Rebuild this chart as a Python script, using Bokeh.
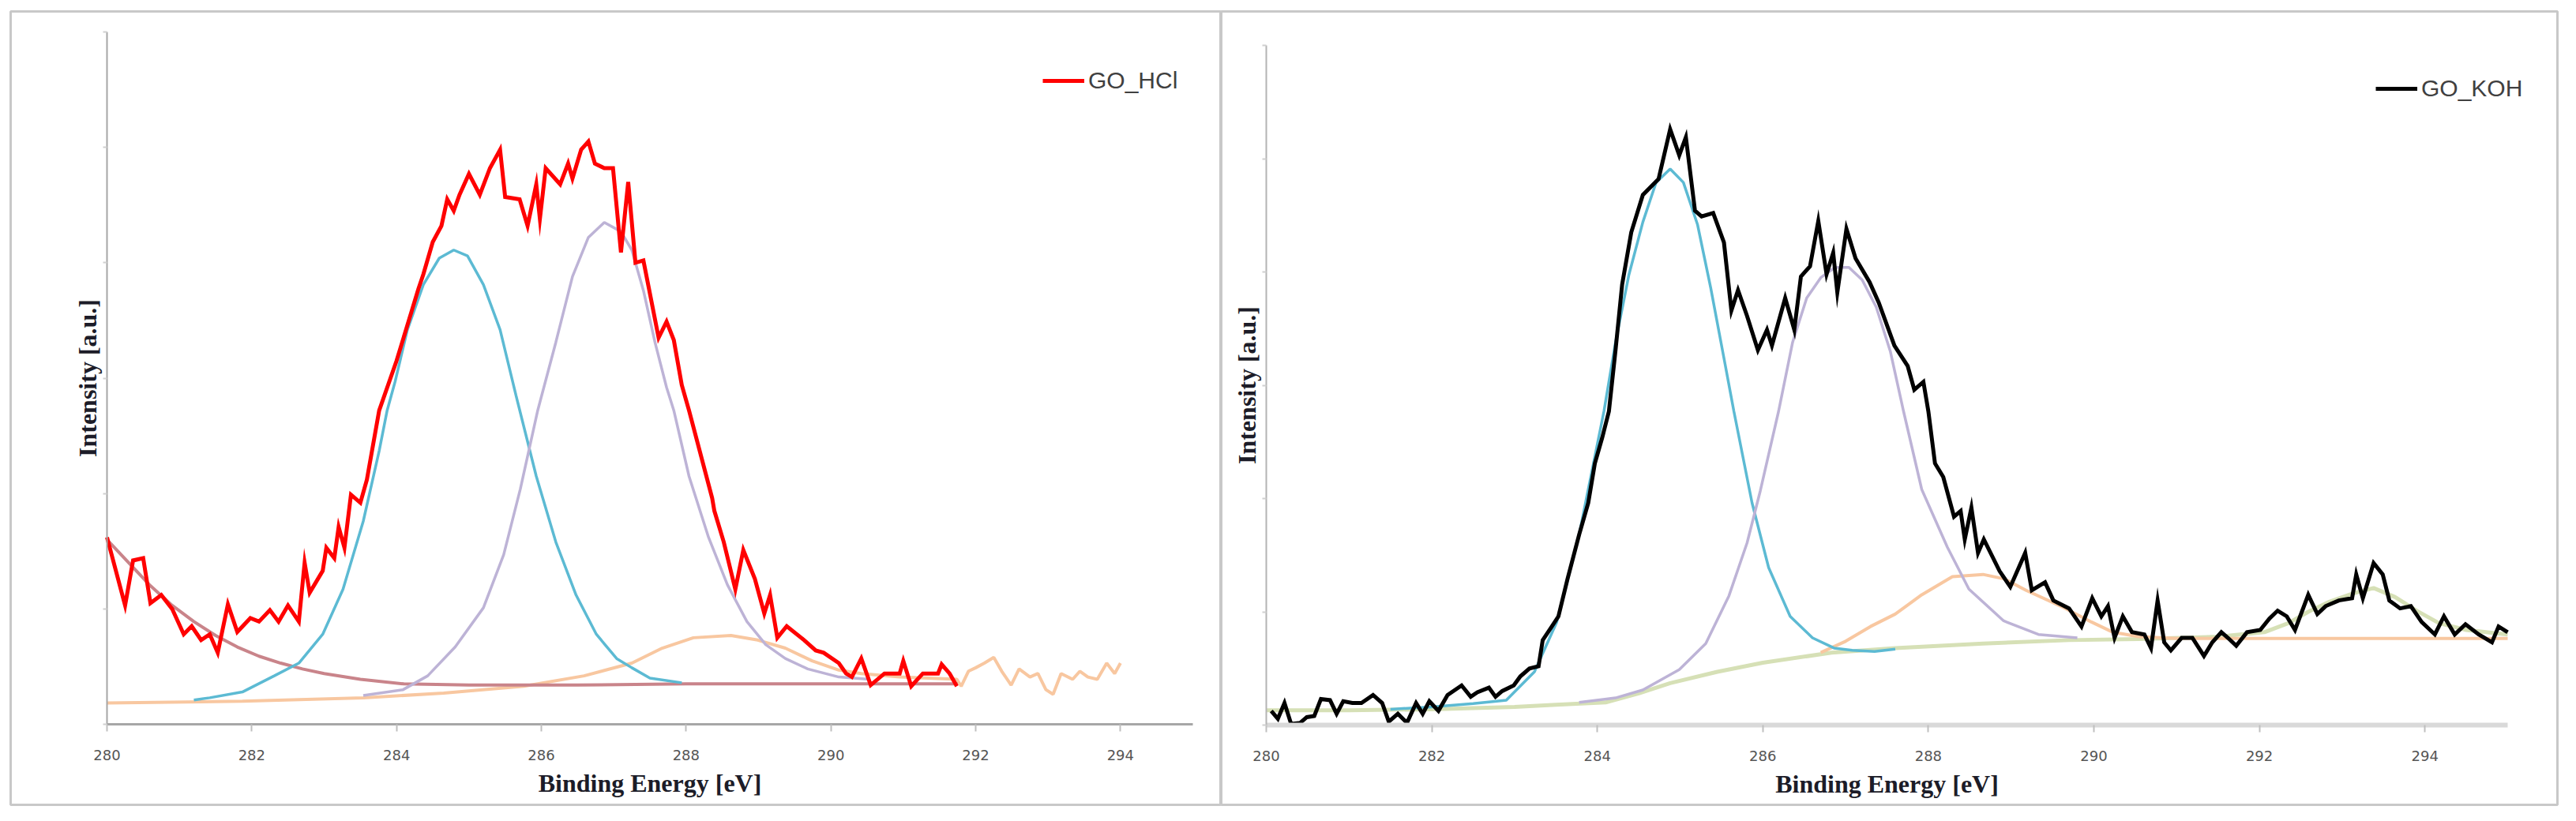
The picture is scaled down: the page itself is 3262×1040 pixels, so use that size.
from bokeh.plotting import figure
from bokeh.models import (Range1d, LinearAxis, FixedTicker, Legend, LegendItem,
                          CustomJSTickFormatter)
from bokeh.layouts import row
from bokeh.embed import file_html
from bokeh.resources import INLINE

# ---------------------------------------------------------------- data
x_ticks = [280, 282, 284, 286, 288, 290, 292, 294]
y_ticks = [0, 1, 2, 3, 4, 5, 6]

# GO_HCl measured C1s spectrum
hcl_be = [280.00, 280.25, 280.36, 280.50, 280.60, 280.75, 280.90, 281.06, 281.17, 281.30,
          281.42, 281.53, 281.67, 281.80, 281.98, 282.10, 282.25, 282.37, 282.50, 282.65,
          282.73, 282.80, 282.98, 283.03, 283.14, 283.20, 283.28, 283.37, 283.50, 283.59,
          283.76, 284.00, 284.30, 284.37, 284.50, 284.62, 284.70, 284.79, 284.87, 285.00,
          285.15, 285.29, 285.43, 285.50, 285.70, 285.81, 285.93, 285.98, 286.06, 286.26,
          286.37, 286.43, 286.55, 286.65, 286.74, 286.87, 286.99, 287.10, 287.20, 287.30,
          287.41, 287.62, 287.73, 287.83, 287.94, 288.04, 288.36, 288.39, 288.52, 288.68,
          288.79, 288.95, 289.08, 289.16, 289.26, 289.39, 289.63, 289.79, 289.90, 290.11,
          290.21, 290.29, 290.42, 290.55, 290.74, 290.95, 291.00, 291.11, 291.27, 291.48,
          291.53, 291.64, 291.74]
hcl_int = [1.62, 1.03, 1.42, 1.44, 1.05, 1.12, 1.00, 0.78, 0.85, 0.73,
           0.78, 0.62, 1.04, 0.80, 0.92, 0.89, 0.99, 0.89, 1.03, 0.89,
           1.40, 1.14, 1.33, 1.53, 1.44, 1.71, 1.53, 1.99, 1.92, 2.12,
           2.72, 3.15, 3.77, 3.90, 4.18, 4.32, 4.55, 4.45, 4.59, 4.77,
           4.59, 4.82, 4.98, 4.57, 4.55, 4.32, 4.68, 4.38, 4.82, 4.68,
           4.86, 4.73, 4.98, 5.05, 4.86, 4.82, 4.82, 4.09, 4.70, 4.00,
           4.02, 3.35, 3.49, 3.33, 2.94, 2.72, 1.96, 1.85, 1.58, 1.17,
           1.51, 1.26, 0.96, 1.12, 0.75, 0.85, 0.73, 0.64, 0.62, 0.53,
           0.44, 0.41, 0.57, 0.34, 0.44, 0.44, 0.55, 0.33, 0.44, 0.44,
           0.52, 0.44, 0.33]

# GO_HCl fitted components
hcl_c1_be = [281.20, 281.42, 281.87, 282.31, 282.65, 282.98, 283.26, 283.54, 283.76, 283.87,
             283.98, 284.15, 284.37, 284.59, 284.79, 284.98, 285.20, 285.43, 285.65, 285.93,
             286.20, 286.48, 286.76, 287.04, 287.25, 287.50, 287.94]
hcl_c1 = [0.21, 0.23, 0.28, 0.42, 0.53, 0.78, 1.17, 1.76, 2.37, 2.72,
          2.97, 3.42, 3.81, 4.04, 4.11, 4.06, 3.81, 3.42, 2.85, 2.15,
          1.58, 1.12, 0.78, 0.57, 0.49, 0.40, 0.36]

hcl_c2_be = [283.54, 284.09, 284.43, 284.81, 285.20, 285.48, 285.71, 285.95, 286.20, 286.43,
             286.65, 286.87, 287.10, 287.25, 287.41, 287.57, 287.73, 287.83, 288.04, 288.31,
             288.57, 288.84, 289.10, 289.37, 289.68, 290.11, 290.53]
hcl_c2 = [0.25, 0.30, 0.42, 0.67, 1.01, 1.47, 2.04, 2.72, 3.31, 3.88,
          4.22, 4.35, 4.27, 4.11, 3.76, 3.31, 2.92, 2.72, 2.15, 1.62,
          1.21, 0.89, 0.69, 0.57, 0.48, 0.41, 0.39]

hcl_c3_be = [280.00, 281.87, 283.54, 284.65, 285.76, 286.59, 287.25, 287.67, 288.10, 288.62,
             288.99, 289.37, 289.74, 290.11, 290.42, 290.95, 291.74, 291.80, 291.90, 292.00,
             292.12, 292.25, 292.36, 292.49, 292.60, 292.75, 292.86, 292.97, 293.07, 293.18,
             293.34, 293.44, 293.55, 293.68, 293.81, 293.92, 294.00]
hcl_c3 = [0.185, 0.20, 0.23, 0.27, 0.33, 0.42, 0.53, 0.66, 0.75, 0.77,
          0.73, 0.66, 0.55, 0.47, 0.44, 0.41, 0.39, 0.33, 0.46, 0.49,
          0.53, 0.58, 0.46, 0.34, 0.48, 0.41, 0.44, 0.30, 0.26, 0.44,
          0.39, 0.46, 0.41, 0.39, 0.53, 0.44, 0.53]

hcl_bg_be = [280.00, 280.30, 280.60, 280.90, 281.20, 281.50, 281.80, 282.10, 282.40, 282.70,
             283.00, 283.50, 284.10, 285.00, 286.50, 288.00, 290.00, 291.75]
hcl_bg = [1.60, 1.40, 1.20, 1.03, 0.89, 0.77, 0.67, 0.59, 0.53, 0.48,
          0.44, 0.39, 0.35, 0.34, 0.34, 0.35, 0.35, 0.35]

# GO_KOH measured C1s spectrum
koh_be = [280.06, 280.14, 280.22, 280.30, 280.41, 280.49, 280.58, 280.66, 280.77, 280.85,
          280.93, 281.04, 281.15, 281.29, 281.40, 281.48, 281.59, 281.70, 281.81, 281.89,
          281.97, 282.08, 282.19, 282.36, 282.47, 282.55, 282.69, 282.77, 282.85, 282.99,
          283.07, 283.18, 283.29, 283.34, 283.45, 283.53, 283.64, 283.78, 283.89, 283.97,
          284.06, 284.14, 284.22, 284.30, 284.41, 284.55, 284.74, 284.88, 284.99, 285.07,
          285.18, 285.26, 285.40, 285.53, 285.62, 285.70, 285.81, 285.94, 286.05, 286.11,
          286.27, 286.38, 286.46, 286.57, 286.67, 286.77, 286.85, 286.90, 287.01, 287.12,
          287.29, 287.40, 287.59, 287.75, 287.83, 287.94, 288.00, 288.08, 288.18, 288.31,
          288.39, 288.44, 288.52, 288.60, 288.67, 288.86, 288.99, 289.17, 289.25, 289.41,
          289.51, 289.70, 289.85, 289.98, 290.09, 290.17, 290.25, 290.35, 290.46, 290.61,
          290.69, 290.77, 290.85, 290.93, 291.06, 291.19, 291.33, 291.43, 291.54, 291.62,
          291.72, 291.85, 292.01, 292.12, 292.22, 292.33, 292.43, 292.59, 292.70, 292.80,
          292.96, 293.12, 293.17, 293.25, 293.38, 293.49, 293.57, 293.70, 293.83, 293.96,
          294.12, 294.23, 294.36, 294.49, 294.65, 294.81, 294.89, 295.00]
koh_int = [0.125, 0.056, 0.195, 0.01, 0.02, 0.07, 0.08, 0.23, 0.22, 0.10,
           0.21, 0.195, 0.195, 0.265, 0.195, 0.03, 0.10, 0.02, 0.195, 0.10,
           0.21, 0.125, 0.265, 0.35, 0.25, 0.29, 0.33, 0.25, 0.30, 0.35,
           0.43, 0.50, 0.52, 0.75, 0.87, 0.96, 1.29, 1.68, 1.96, 2.31,
           2.54, 2.77, 3.31, 3.89, 4.35, 4.68, 4.82, 5.26, 5.03, 5.19,
           4.54, 4.49, 4.52, 4.26, 3.66, 3.84, 3.61, 3.31, 3.49, 3.35,
           3.77, 3.49, 3.96, 4.05, 4.45, 3.98, 4.17, 3.82, 4.38, 4.12,
           3.91, 3.73, 3.35, 3.17, 2.96, 3.03, 2.77, 2.31, 2.19, 1.84,
           1.89, 1.64, 1.92, 1.52, 1.64, 1.36, 1.22, 1.52, 1.19, 1.26,
           1.10, 1.03, 0.87, 1.12, 0.96, 1.05, 0.77, 0.96, 0.82, 0.80,
           0.68, 1.10, 0.73, 0.66, 0.77, 0.77, 0.61, 0.73, 0.82, 0.77,
           0.70, 0.82, 0.84, 0.94, 1.01, 0.96, 0.84, 1.15, 0.98, 1.05,
           1.10, 1.12, 1.33, 1.12, 1.43, 1.33, 1.10, 1.03, 1.05, 0.91,
           0.80, 0.96, 0.80, 0.89, 0.80, 0.73, 0.87, 0.82]

# GO_KOH fitted components
koh_c1_be = [281.50, 282.00, 282.50, 282.90, 283.24, 283.51, 283.78, 284.08, 284.22, 284.38,
             284.55, 284.71, 284.88, 285.04, 285.21, 285.37, 285.54, 285.65, 285.87, 286.07,
             286.33, 286.60, 286.86, 287.08, 287.35, 287.60]
koh_c1 = [0.14, 0.16, 0.19, 0.22, 0.47, 0.91, 1.68, 2.77, 3.38, 3.97,
          4.44, 4.79, 4.91, 4.79, 4.42, 3.86, 3.20, 2.77, 1.96, 1.39,
          0.96, 0.77, 0.68, 0.66, 0.65, 0.67]

koh_c2_be = [283.78, 284.22, 284.55, 284.99, 285.31, 285.59, 285.81, 285.97, 286.19, 286.36,
             286.53, 286.70, 286.87, 287.04, 287.20, 287.37, 287.54, 287.70, 287.92, 288.23,
             288.49, 288.91, 289.33, 289.80]
koh_c2 = [0.20, 0.24, 0.31, 0.49, 0.72, 1.14, 1.61, 2.07, 2.77, 3.38,
          3.77, 3.95, 4.04, 4.04, 3.93, 3.69, 3.30, 2.77, 2.08, 1.57,
          1.20, 0.92, 0.80, 0.77]

koh_c3_be = [286.70, 287.00, 287.30, 287.60, 287.92, 288.29, 288.66, 288.92, 289.18, 289.60,
             289.97, 290.23, 290.54, 291.00, 295.00]
koh_c3 = [0.64, 0.74, 0.87, 0.98, 1.15, 1.31, 1.33, 1.29, 1.19, 1.05,
          0.91, 0.82, 0.78, 0.765, 0.765]

koh_c4_be = [280.00, 281.00, 282.00, 283.00, 283.50, 284.10, 284.50, 284.88, 285.45, 286.00,
             286.83, 287.60, 288.66, 289.70, 290.54, 291.50, 292.06, 292.35, 292.59, 292.85,
             293.12, 293.38, 293.64, 293.90, 294.17, 294.50, 295.00]
koh_c4 = [0.13, 0.13, 0.14, 0.16, 0.18, 0.20, 0.28, 0.37, 0.47, 0.55,
          0.64, 0.68, 0.72, 0.75, 0.76, 0.78, 0.82, 0.90, 1.00, 1.09,
          1.16, 1.21, 1.13, 1.01, 0.90, 0.84, 0.80]

# ---------------------------------------------------------------- styling
CYAN = "#5cbad3"
LAVENDER = "#bdb3d6"
PEACH = "#f8c7a0"
ROSE = "#c9848a"
OLIVE = "#d6e0b6"
FRAME = "#c8c8c8"

PAGE_H = 1040
TOP, BOTTOM = 14, 1019          # outer frame rows on the page
X_MIN, X_MAX = 280, 295
Y_MIN, Y_MAX = 0, 6


def panel(page_left, page_right, canvas_left, extra_right, ax_x0, ax_x1, ax_y0, ax_y6,
          xaxis_color, xaxis_width, yaxis_color):
    """One framed chart; pixel anchors are page coordinates."""
    ppx = (ax_x1 - ax_x0) / (X_MAX - X_MIN)
    ppy = (ax_y0 - ax_y6) / (Y_MAX - Y_MIN)
    xr = Range1d(X_MIN - (ax_x0 - page_left) / ppx, X_MAX + (page_right - ax_x1) / ppx)
    yr = Range1d(Y_MIN - (BOTTOM - ax_y0) / ppy, Y_MAX + (ax_y6 - TOP) / ppy)
    width = page_right - canvas_left + extra_right
    p = figure(width=width, height=PAGE_H, x_range=xr, y_range=yr,
               x_axis_location=None, y_axis_location=None,
               toolbar_location=None, output_backend="svg",
               min_border_left=page_left - canvas_left,
               min_border_right=extra_right,
               min_border_top=TOP, min_border_bottom=PAGE_H - BOTTOM)
    p.grid.visible = False
    p.background_fill_color = "white"
    p.border_fill_color = "white"
    p.outline_line_color = FRAME
    p.outline_line_width = 3

    xa = LinearAxis(fixed_location=0, bounds=(X_MIN, X_MAX),
                    ticker=FixedTicker(ticks=x_ticks),
                    axis_label="Binding Energy [eV]")
    xa.axis_line_color = xaxis_color
    xa.axis_line_width = xaxis_width
    xa.major_tick_line_color = "#bfbfbf"
    xa.major_tick_line_width = 2
    xa.major_tick_out = 9
    xa.major_tick_in = 0
    xa.minor_tick_out = 0
    xa.major_label_text_font = "DejaVu Sans"
    xa.major_label_text_font_size = "18px"
    xa.major_label_text_color = "#555555"
    xa.major_label_standoff = 23
    xa.axis_label_text_font = "Liberation Serif"
    xa.axis_label_text_font_style = "bold"
    xa.axis_label_text_font_size = "32px"
    xa.axis_label_text_color = "#1c1c28"
    xa.axis_label_standoff = 8
    p.add_layout(xa, "below")

    ya = LinearAxis(fixed_location=X_MIN, bounds=(Y_MIN, Y_MAX),
                    ticker=FixedTicker(ticks=y_ticks),
                    formatter=CustomJSTickFormatter(code="return ''"),
                    axis_label="Intensity [a.u.]")
    ya.axis_line_color = yaxis_color
    ya.axis_line_width = 2
    ya.major_tick_line_color = "#d0d0d0"
    ya.major_tick_line_width = 2
    ya.major_tick_out = 5
    ya.major_tick_in = 0
    ya.minor_tick_out = 0
    ya.major_label_standoff = 0
    ya.axis_label_text_font = "Liberation Serif"
    ya.axis_label_text_font_style = "bold"
    ya.axis_label_text_font_size = "32px"
    ya.axis_label_text_color = "#1c1c28"
    ya.axis_label_standoff = 2
    p.add_layout(ya, "left")
    return p


def add_legend(p, renderer, label, vx, vy):
    leg = Legend(items=[LegendItem(label=label, renderers=[renderer])],
                 location=(vx, vy), glyph_width=53, glyph_height=36,
                 label_height=36, label_standoff=5, padding=0, margin=0,
                 spacing=0, border_line_color=None, background_fill_alpha=0,
                 label_text_font="Liberation Sans", label_text_font_size="30px",
                 label_text_color="#404040")
    p.add_layout(leg)


# ---------------------------------------------------------------- GO_HCl
left = panel(page_left=13, page_right=1546, canvas_left=0, extra_right=0,
             ax_x0=135, ax_x1=1510, ax_y0=917, ax_y6=40,
             xaxis_color="#a6a6a6", xaxis_width=3, yaxis_color="#a6a6a6")
left.line(hcl_c3_be, hcl_c3, line_color=PEACH, line_width=4)
left.line(hcl_bg_be, hcl_bg, line_color=ROSE, line_width=4)
left.line(hcl_c1_be, hcl_c1, line_color=CYAN, line_width=3.5)
left.line(hcl_c2_be, hcl_c2, line_color=LAVENDER, line_width=3.5)
r_hcl = left.line(hcl_be, hcl_int, line_color="#ff0000", line_width=5,
                  line_join="miter")
add_legend(left, r_hcl, "GO_HCl", vx=1320 - 13, vy=(BOTTOM - 102) - 18)

# ---------------------------------------------------------------- GO_KOH
right = panel(page_left=1546, page_right=3238, canvas_left=1546, extra_right=24,
              ax_x0=1603, ax_x1=3175, ax_y0=918, ax_y6=57,
              xaxis_color="#d9d9d9", xaxis_width=6, yaxis_color="#b4b4b4")
right.line(koh_c4_be, koh_c4, line_color=OLIVE, line_width=5)
right.line(koh_c3_be, koh_c3, line_color=PEACH, line_width=4)
right.line(koh_c1_be, koh_c1, line_color=CYAN, line_width=3.5)
right.line(koh_c2_be, koh_c2, line_color=LAVENDER, line_width=3.5)
r_koh = right.line(koh_be, koh_int, line_color="#000000", line_width=5,
                   line_join="miter")
add_legend(right, r_koh, "GO_KOH", vx=3008 - 1546, vy=(BOTTOM - 112) - 18)

layout = row(left, right, spacing=0)
open("out.html", "w").write(file_html(layout, INLINE))
